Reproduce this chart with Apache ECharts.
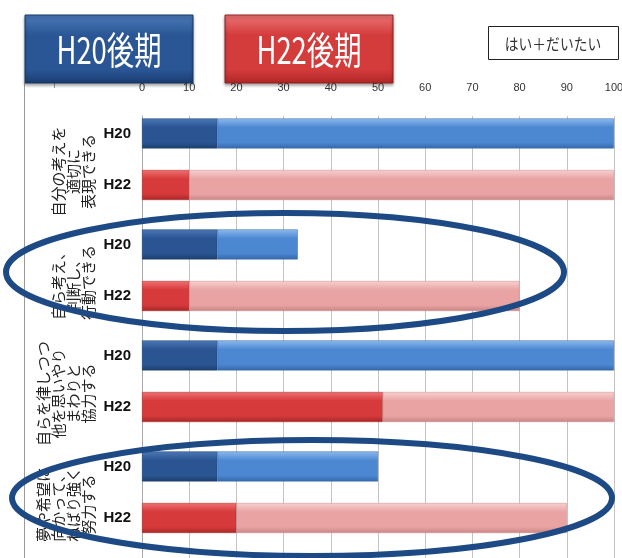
<!DOCTYPE html>
<html>
<head>
<meta charset="utf-8">
<script src="https://cdn.jsdelivr.net/npm/echarts@6/dist/echarts.min.js"></script>
<style>
html, body { margin: 0; padding: 0; background: #fff; }
#main { width: 622px; height: 558px; }
</style>
</head>
<body>
<div id="main"></div>
<script>
// 項目
var categories = [
  '自分の考えを\n適切に\n表現できる',
  '自ら考え、\n判断し、\n行動できる',
  '自らを律しつつ\n他を思いやり\nまわりと\n協力する',
  '夢や希望に\n向かって、\nねばり強く\n努力する'
];
// H20後期（はい / だいたい）
var h20Hai = [16, 16, 16, 16];
var h20Daitai = [84, 17, 84, 34];
// H22後期（はい / だいたい）
var h22Hai = [10, 10, 51, 20];
var h22Daitai = [90, 70, 49, 70];
var padData = [0, 0, 0, 0];

var narrow = "'Liberation Sans Narrow', 'Liberation Sans', Arial, sans-serif";
var jp = "'Noto Sans CJK JP', sans-serif";

function grad(c1, c2, c3) {
  return {
    type: 'linear', x: 0, y: 0, x2: 0, y2: 1,
    colorStops: [
      { offset: 0, color: c1 },
      { offset: 0.3, color: c2 },
      { offset: 0.8, color: c2 },
      { offset: 1, color: c3 }
    ]
  };
}

var myChart = echarts.init(document.getElementById('main'));

var barCommon = {
  type: 'bar',
  barWidth: 30,
  barGap: '72%',
  animation: false
};

myChart.setOption({
  animation: false,
  grid: { left: 142, right: 8, top: 116, height: 444, outerBoundsMode: 'none', containLabel: false },
  xAxis: {
    type: 'value',
    position: 'top',
    min: 0,
    max: 100,
    interval: 10,
    axisLine: { show: false },
    axisTick: { show: false },
    axisLabel: { margin: 23, fontSize: 11, fontFamily: narrow, color: '#333' },
    splitLine: { lineStyle: { color: '#c4c4c4', width: 1 } }
  },
  yAxis: {
    type: 'category',
    inverse: true,
    data: categories,
    axisLine: { lineStyle: { color: '#a8a8a8' } },
    axisTick: { length: 112, interval: 0, lineStyle: { color: '#a8a8a8' } },
    axisLabel: {
      interval: 0,
      rotate: 90,
      margin: 46,
      align: 'center',
      verticalAlign: 'bottom',
      fontSize: 15,
      lineHeight: 15,
      fontFamily: jp,
      color: '#222'
    }
  },
  series: [
    Object.assign({}, barCommon, {
      name: 'H20はい', stack: 'h20', data: h20Hai,
      itemStyle: { color: grad('#4a78b6', '#2a5592', '#1b3e70'), borderColor: '#1d416f', borderWidth: 0.5 },
      label: {
        show: true, position: 'left', distance: 11, formatter: 'H20',
        fontFamily: narrow, fontWeight: 'bold', fontSize: 15, color: '#111'
      }
    }),
    Object.assign({}, barCommon, {
      name: 'H20だいたい', stack: 'h20', data: h20Daitai,
      itemStyle: { color: grad('#8dbaee', '#4c88d2', '#3467ab'), borderColor: '#3d6aa6', borderWidth: 0.5 }
    }),
    Object.assign({}, barCommon, {
      name: 'H22はい', stack: 'h22', data: h22Hai,
      itemStyle: { color: grad('#f07070', '#d63a3a', '#a82626'), borderColor: '#a32a2a', borderWidth: 0.5 }, 
      label: {
        show: true, position: 'left', distance: 11, formatter: 'H22',
        fontFamily: narrow, fontWeight: 'bold', fontSize: 15, color: '#111'
      }
    }),
    Object.assign({}, barCommon, {
      name: 'H22だいたい', stack: 'h22', data: h22Daitai,
      itemStyle: { color: grad('#f8d0d0', '#e9a3a3', '#c98484'), borderColor: '#c88a8a', borderWidth: 0.5 }
    }),
    Object.assign({}, barCommon, {
      name: 'pad', stack: 'pad', data: padData, barWidth: 3, silent: true,
      itemStyle: { color: 'rgba(0,0,0,0)' }
    })
  ],
  graphic: [
    // 外枠
    { type: 'line', z: 1, shape: { x1: 24.5, y1: 83, x2: 24.5, y2: 558 }, style: { stroke: '#9a9a9a', lineWidth: 1 } },
    { type: 'line', z: 1, shape: { x1: 54.5, y1: 83, x2: 54.5, y2: 88 }, style: { stroke: '#9a9a9a', lineWidth: 1 } },
    // 見出し
    {
      type: 'rect', z: 10, shape: { x: 25, y: 15, width: 168, height: 68 },
      style: { fill: grad('#4b79b8', '#2a5696', '#1a3c6e'), stroke: '#163763', lineWidth: 1,
               shadowBlur: 3, shadowColor: 'rgba(0,0,0,0.35)', shadowOffsetY: 2 }
    },
    {
      type: 'text', z: 11, x: 109, y: 50, scaleX: 0.72,
      style: { text: 'H20後期', fill: '#fff', font: '38px ' + jp, align: 'center', verticalAlign: 'middle' }
    },
    {
      type: 'rect', z: 10, shape: { x: 225, y: 15, width: 168, height: 68 },
      style: { fill: grad('#ec7474', '#d43b3b', '#ae2626'), stroke: '#8f2020', lineWidth: 1,
               shadowBlur: 3, shadowColor: 'rgba(0,0,0,0.35)', shadowOffsetY: 2 }
    },
    {
      type: 'text', z: 11, x: 309, y: 50, scaleX: 0.72,
      style: { text: 'H22後期', fill: '#fff', font: '38px ' + jp, align: 'center', verticalAlign: 'middle' }
    },
    {
      type: 'rect', z: 10, shape: { x: 488.5, y: 26.5, width: 130, height: 33 },
      style: { fill: '#fff', stroke: '#222', lineWidth: 1 }
    },
    {
      type: 'text', z: 11, x: 553, y: 44, scaleX: 0.86,
      style: { text: 'はい＋だいたい', fill: '#333', font: '16px ' + jp, align: 'center', verticalAlign: 'middle' }
    },
    // 強調の楕円
    {
      type: 'ellipse', z: 100, shape: { cx: 285, cy: 272, rx: 279, ry: 59 },
      style: { fill: null, stroke: '#1d4a85', lineWidth: 6 }
    },
    {
      type: 'ellipse', z: 100, shape: { cx: 312, cy: 498, rx: 300, ry: 58 },
      style: { fill: null, stroke: '#1d4a85', lineWidth: 6 }
    }
  ]
});
</script>
</body>
</html>
